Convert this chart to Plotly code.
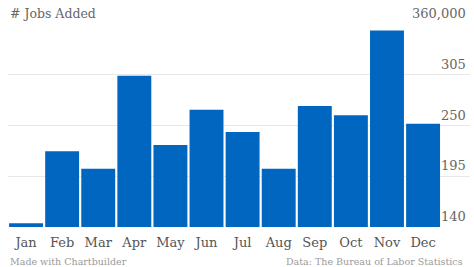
import plotly.graph_objects as go

months = ["Jan", "Feb", "Mar", "Apr", "May", "Jun", "Jul", "Aug", "Sep", "Oct", "Nov", "Dec"]
jobs_added = [144, 222, 203, 304, 229, 267, 243, 203, 271, 261, 353, 252]
tick_vals = [140, 195, 250, 305, 360]
tick_text = ["140", "195", "250", "305", "360,000"]

FONT = "DejaVu Serif"

fig = go.Figure()
fig.add_trace(go.Bar(
    x=list(range(len(months))),
    y=jobs_added,
    marker=dict(color="#0066bf", line=dict(width=0)),
    hoverinfo="skip",
))

annotations = [
    dict(text="# Jobs Added", xref="paper", yref="paper", x=0, y=1,
         xanchor="left", yanchor="bottom", showarrow=False,
         font=dict(size=12.5, color="#666666", family=FONT), yshift=1),
    dict(text="Made with Chartbuilder", xref="paper", yref="paper", x=0, y=0,
         xanchor="left", yanchor="middle", showarrow=False, yshift=-34,
         font=dict(size=9.5, color="#9a9a9a", family=FONT)),
    dict(text="Data: The Bureau of Labor Statistics", xref="paper", yref="paper", x=0.99, y=0,
         xanchor="right", yanchor="middle", showarrow=False, yshift=-34,
         font=dict(size=9.5, color="#9a9a9a", family=FONT)),
]
for v, t in zip(tick_vals, tick_text):
    annotations.append(dict(
        text=t, xref="paper", yref="y", x=0.995, y=v,
        xanchor="right", yanchor="bottom", showarrow=False, yshift=1,
        font=dict(size=13, color="#666666", family=FONT),
    ))

fig.update_layout(
    width=474, height=267,
    margin=dict(l=8, r=4, t=24, b=40),
    paper_bgcolor="white", plot_bgcolor="white",
    bargap=0.06,
    showlegend=False,
    font=dict(family=FONT, color="#555555"),
    xaxis=dict(
        range=[-0.5, 12.3],
        tickvals=list(range(len(months))),
        ticktext=months,
        tickfont=dict(size=13, color="#555555"),
        ticklabelstandoff=6,
        showgrid=False, zeroline=False, showline=False, ticks="",
    ),
    yaxis=dict(
        range=[140, 360],
        side="right",
        tickvals=tick_vals,
        showticklabels=False,
        showgrid=True, gridcolor="#e8e8e8", gridwidth=1,
        zeroline=False, showline=False, ticks="",
    ),
    annotations=annotations,
)

fig.write_html("out.html")
